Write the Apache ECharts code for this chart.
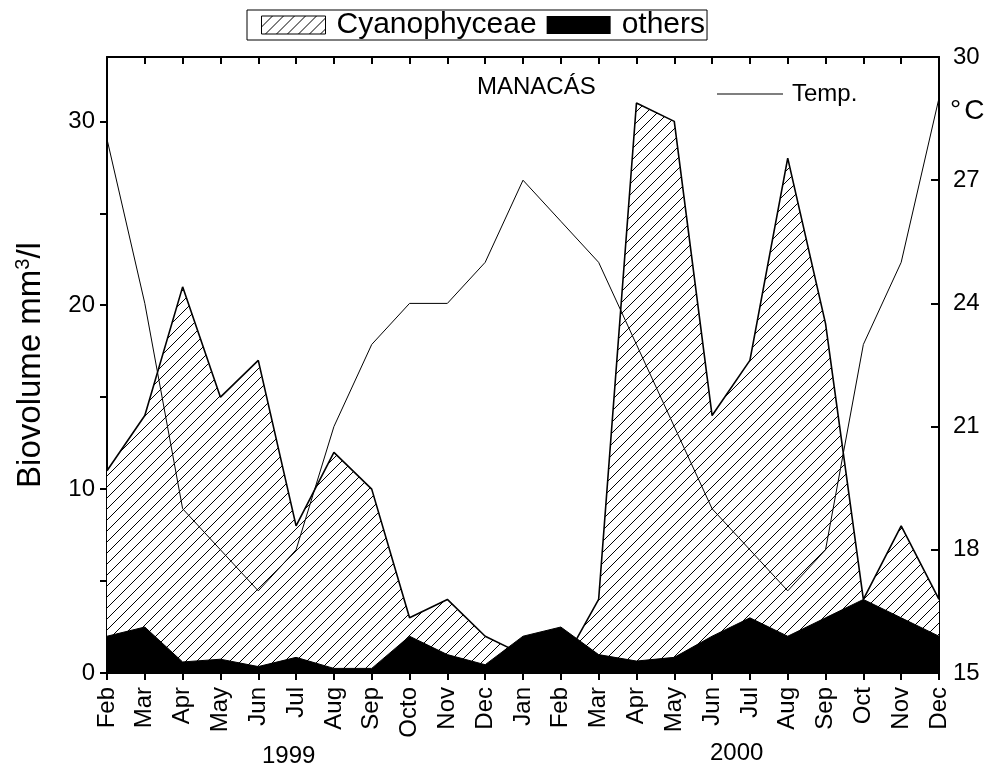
<!DOCTYPE html>
<html>
<head>
<meta charset="utf-8">
<title>MANACÁS</title>
<script src="https://cdn.jsdelivr.net/npm/echarts@6/dist/echarts.min.js"></script>
<style>
  html, body { margin: 0; padding: 0; background: #fff; }
  #chart { width: 997px; height: 774px; }
</style>
</head>
<body>
<div id="chart"></div>
<script>
// Sampling months, Feb 1999 to Dec 2000
const months = ['Feb','Mar','Apr','May','Jun','Jul','Aug','Sep','Octo','Nov','Dec',
                'Jan','Feb','Mar','Apr','May','Jun','Jul','Aug','Sep','Oct','Nov','Dec'];
// Biovolume (mm3/l)
const cyanophyceae = [11, 14, 21, 15, 17, 8, 12, 10, 3, 4, 2,
                      1, 0.3, 4, 31, 30, 14, 17, 28, 19, 4, 8, 4];
const others = [2, 2.5, 0.6, 0.75, 0.35, 0.85, 0.25, 0.25, 2, 1, 0.45,
                2, 2.5, 1, 0.65, 0.85, 2, 3, 2, 3, 4, 3, 2];
// Water temperature (°C)
const temperature = [28, 24, 19, 18, 17, 18, 21, 23, 24, 24, 25,
                     27, 26, 25, 23, 21, 19, 18, 17, 18, 23, 25, 29];
// Axis ticks
const bioLabels = [0, 10, 20, 30];
const bioTicks = [0, 5, 10, 15, 20, 25, 30];
const yearLabels = ['1999', '2000'];

const FONT = 'Arial, "Liberation Sans", Helvetica, sans-serif';

// Diagonal hatch tile for the Cyanophyceae area
function hatchTile() {
  const s = 11;
  const c = document.createElement('canvas');
  c.width = s; c.height = s;
  const g = c.getContext('2d');
  g.fillStyle = '#fff';
  g.fillRect(0, 0, s, s);
  g.strokeStyle = '#000';
  g.lineWidth = 1;
  g.beginPath();
  g.moveTo(-1, s + 1); g.lineTo(s + 1, -1);
  g.moveTo(-1, 1); g.lineTo(1, -1);
  g.moveTo(s - 1, s + 1); g.lineTo(s + 1, s - 1);
  g.stroke();
  return c;
}
const hatch = { image: hatchTile(), repeat: 'repeat' };

const chart = echarts.init(document.getElementById('chart'), null, { renderer: 'canvas' });

const axisLine = { show: true, lineStyle: { color: '#000', width: 2 } };

chart.setOption({
  animation: false,
  backgroundColor: '#fff',
  textStyle: { fontFamily: FONT, color: '#000' },
  grid: { left: 107, right: 58, top: 57, bottom: 101, containLabel: false },
  legend: [
    {
      left: 247, top: 10,
      orient: 'horizontal',
      selectedMode: false,
      itemWidth: 64, itemHeight: 18, itemGap: 10,
      borderColor: '#000', borderWidth: 1,
      padding: [0, 2, 0, 14],
      textStyle: { fontSize: 30, color: '#000', fontFamily: FONT, padding: [0, 0, 0, 6] },
      data: [
        { name: 'Cyanophyceae', icon: 'rect', itemStyle: { color: hatch, borderColor: '#000', borderWidth: 1 } },
        { name: 'others', icon: 'rect', itemStyle: { color: '#000', borderWidth: 0 } }
      ]
    },
    {
      left: 712, top: 77,
      selectedMode: false,
      itemWidth: 66, itemHeight: 1,
      textStyle: { fontSize: 24, color: '#000', fontFamily: FONT, padding: [0, 0, 0, 4] },
      data: [{ name: 'Temp.', icon: 'rect', itemStyle: { color: '#000', borderWidth: 0 } }]
    }
  ],
  xAxis: [
    {
      type: 'category', data: months, boundaryGap: false, position: 'bottom',
      axisLine: axisLine,
      axisTick: { show: true, length: 7, lineStyle: { color: '#000', width: 2 } },
      axisLabel: { interval: 0, rotate: 90, fontSize: 24, color: '#000', margin: 14, fontFamily: FONT }
    },
    {
      type: 'category', data: months, boundaryGap: false, position: 'top',
      axisLine: axisLine,
      axisTick: { show: true, inside: true, length: 7, lineStyle: { color: '#000', width: 2 } },
      axisLabel: { show: false }
    }
  ],
  yAxis: [
    {
      type: 'value', min: 0, max: 33.5, position: 'left',
      axisLine: axisLine,
      splitLine: { show: false },
      axisTick: { show: true, length: 7, customValues: bioTicks, lineStyle: { color: '#000', width: 2 } },
      axisLabel: { customValues: bioLabels, fontSize: 24, color: '#000', margin: 12, fontFamily: FONT },
      name: 'Biovolume mm{sup|3}/l',
      nameLocation: 'middle',
      nameRotate: 90,
      nameGap: 58,
      nameTextStyle: {
        fontSize: 33, color: '#000', fontFamily: FONT,
        rich: { sup: { fontSize: 20, color: '#000', fontFamily: FONT, padding: [0, 0, 16, 0] } }
      }
    },
    {
      type: 'value', min: 15, max: 30, interval: 3, position: 'right',
      axisLine: axisLine,
      splitLine: { show: false },
      axisTick: { show: true, inside: true, length: 8, lineStyle: { color: '#000', width: 2 } },
      axisLabel: { fontSize: 24, color: '#000', margin: 14, fontFamily: FONT }
    }
  ],
  series: [
    {
      name: 'Cyanophyceae', type: 'line', data: cyanophyceae,
      xAxisIndex: 0, yAxisIndex: 0,
      symbol: 'none', z: 2,
      lineStyle: { color: '#000', width: 1.6 },
      itemStyle: { color: '#000' },
      areaStyle: { color: hatch, opacity: 1 }
    },
    {
      name: 'others', type: 'line', data: others,
      xAxisIndex: 0, yAxisIndex: 0,
      symbol: 'none', z: 3,
      lineStyle: { color: '#000', width: 1 },
      itemStyle: { color: '#000' },
      areaStyle: { color: '#000', opacity: 1 }
    },
    {
      name: 'Temp.', type: 'line', data: temperature,
      xAxisIndex: 0, yAxisIndex: 1,
      symbol: 'none', z: 4,
      lineStyle: { color: '#000', width: 1 },
      itemStyle: { color: '#000' }
    }
  ],
  graphic: [
    { type: 'text', left: 477, top: 75, style: { text: 'MANACÁS', font: '24px ' + FONT, fill: '#000' } },
    {
      type: 'text', left: 950, top: 97,
      style: {
        text: '{d|°}{c|C}',
        rich: {
          d: { fontSize: 28, fontFamily: FONT, fill: '#000', padding: [0, 3, 0, 0] },
          c: { fontSize: 28, fontFamily: FONT, fill: '#000' }
        }
      }
    },
    { type: 'text', left: 262, top: 744, style: { text: yearLabels[0], font: '24px ' + FONT, fill: '#000' } },
    { type: 'text', left: 710, top: 741, style: { text: yearLabels[1], font: '24px ' + FONT, fill: '#000' } }
  ]
});
</script>
</body>
</html>
